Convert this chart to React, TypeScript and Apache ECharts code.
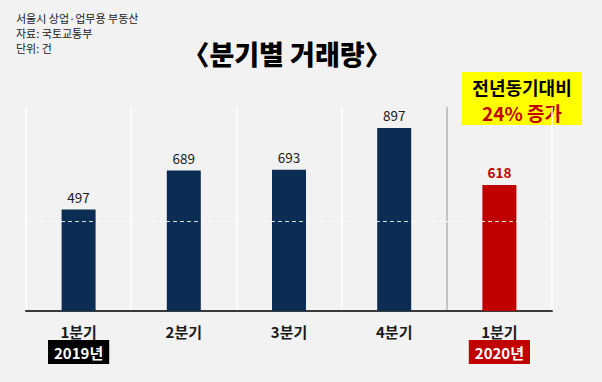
import React, { useEffect, useRef } from "react";
import * as echarts from "echarts";

const quarters = ["1분기", "2분기", "3분기", "4분기", "1분기"];
const years = ["2019년", "", "", "", "2020년"];
const values = [497, 689, 693, 897, 618];
const subtitleLines = ["서울시 상업·업무용 부동산", "자료: 국토교통부", "단위: 건"];
const titleText = "〈분기별 거래량〉";
const noteLines = ["전년동기대비", "24% 증가"];
const refLineValue = 440;

const FONT = '"Noto Sans CJK KR", "Noto Sans", sans-serif';
const NAVY = "#0b2d53";
const RED = "#c00000";

export default function App() {
  const ref = useRef<HTMLDivElement>(null);
  useEffect(() => {
    if (!ref.current) return;
    const chart = echarts.init(ref.current, null, { renderer: "svg" });
    const lastIdx = values.length - 1;
    chart.setOption({
      animation: false,
      backgroundColor: "#f2f2f2",
      textStyle: { fontFamily: FONT },
      grid: { left: 26, right: 50, top: 107, bottom: 71 },
      xAxis: {
        type: "category",
        data: quarters,
        axisTick: { show: false },
        axisLine: { lineStyle: { color: "#3a3a3a", width: 2 } },
        splitLine: {
          show: true,
          lineStyle: {
            color: ["#ffffff", "#ffffff", "#ffffff", "#ffffff", "#b5b5b5", "#ffffff"],
            width: 1.5,
          },
        },
        axisLabel: {
          margin: 7,
          interval: 0,
          formatter: (v: string, i: number) => {
            const y = years[i];
            if (!y) return `{q|${v}}`;
            return `{q|${v}}\n{${i === lastIdx ? "y20" : "y19"}|${y}}`;
          },
          rich: {
            q: { fontFamily: FONT, fontSize: 15, fontWeight: "bold", color: "#1a1a1a", lineHeight: 26 },
            y19: {
              fontFamily: FONT, fontSize: 15, fontWeight: "bold", color: "#ffffff",
              backgroundColor: "#000000", padding: [5, 6, 4, 6], lineHeight: 16,
            },
            y20: {
              fontFamily: FONT, fontSize: 15, fontWeight: "bold", color: "#ffffff",
              backgroundColor: RED, padding: [5, 6, 4, 6], lineHeight: 16,
            },
          },
        },
      },
      yAxis: { type: "value", min: 0, max: 1000, show: false, splitLine: { show: false } },
      series: [
        {
          type: "bar",
          barWidth: 34,
          data: values.map((v, i) =>
            i === lastIdx
              ? { value: v, itemStyle: { color: RED }, label: { color: RED, fontWeight: "bold" } }
              : { value: v, itemStyle: { color: NAVY } }
          ),
          label: {
            show: true,
            position: "top",
            distance: 6,
            fontFamily: FONT,
            fontSize: 13.5,
            color: "#1a1a1a",
          },
          markLine: {
            silent: true,
            symbol: "none",
            label: { show: false },
            lineStyle: { color: "#ffffff", type: [4, 3], width: 1, opacity: 0.85 },
            data: [{ yAxis: refLineValue }],
          },
        },
      ],
      graphic: [
        ...subtitleLines.map((t, i) => ({
          type: "text",
          x: 16,
          y: 18 + i * 15,
          style: {
            text: t, fontFamily: FONT, fontSize: 11, fill: "#1a1a1a",
            textVerticalAlign: "middle",
          },
        })),
        {
          type: "text",
          x: 287,
          y: 53,
          style: {
            text: titleText, fontFamily: FONT, fontSize: 27, fontWeight: 900, fill: "#000000",
            textAlign: "center", textVerticalAlign: "middle",
          },
        },
        {
          type: "rect",
          shape: { x: 462, y: 72, width: 120, height: 53 },
          style: { fill: "#ffff00" },
        },
        {
          type: "text",
          x: 522,
          y: 87,
          style: {
            text: noteLines[0], fontFamily: FONT, fontSize: 18, fontWeight: "bold", fill: "#000000",
            textAlign: "center", textVerticalAlign: "middle",
          },
        },
        {
          type: "text",
          x: 522,
          y: 112,
          style: {
            text: noteLines[1], fontFamily: FONT, fontSize: 19, fontWeight: "bold", fill: RED,
            textAlign: "center", textVerticalAlign: "middle",
          },
        },
      ],
    });
    return () => chart.dispose();
  }, []);
  return (
    <div
      ref={ref}
      style={{ position: "fixed", left: 0, top: 0, width: 602, height: 382 }}
    />
  );
}
